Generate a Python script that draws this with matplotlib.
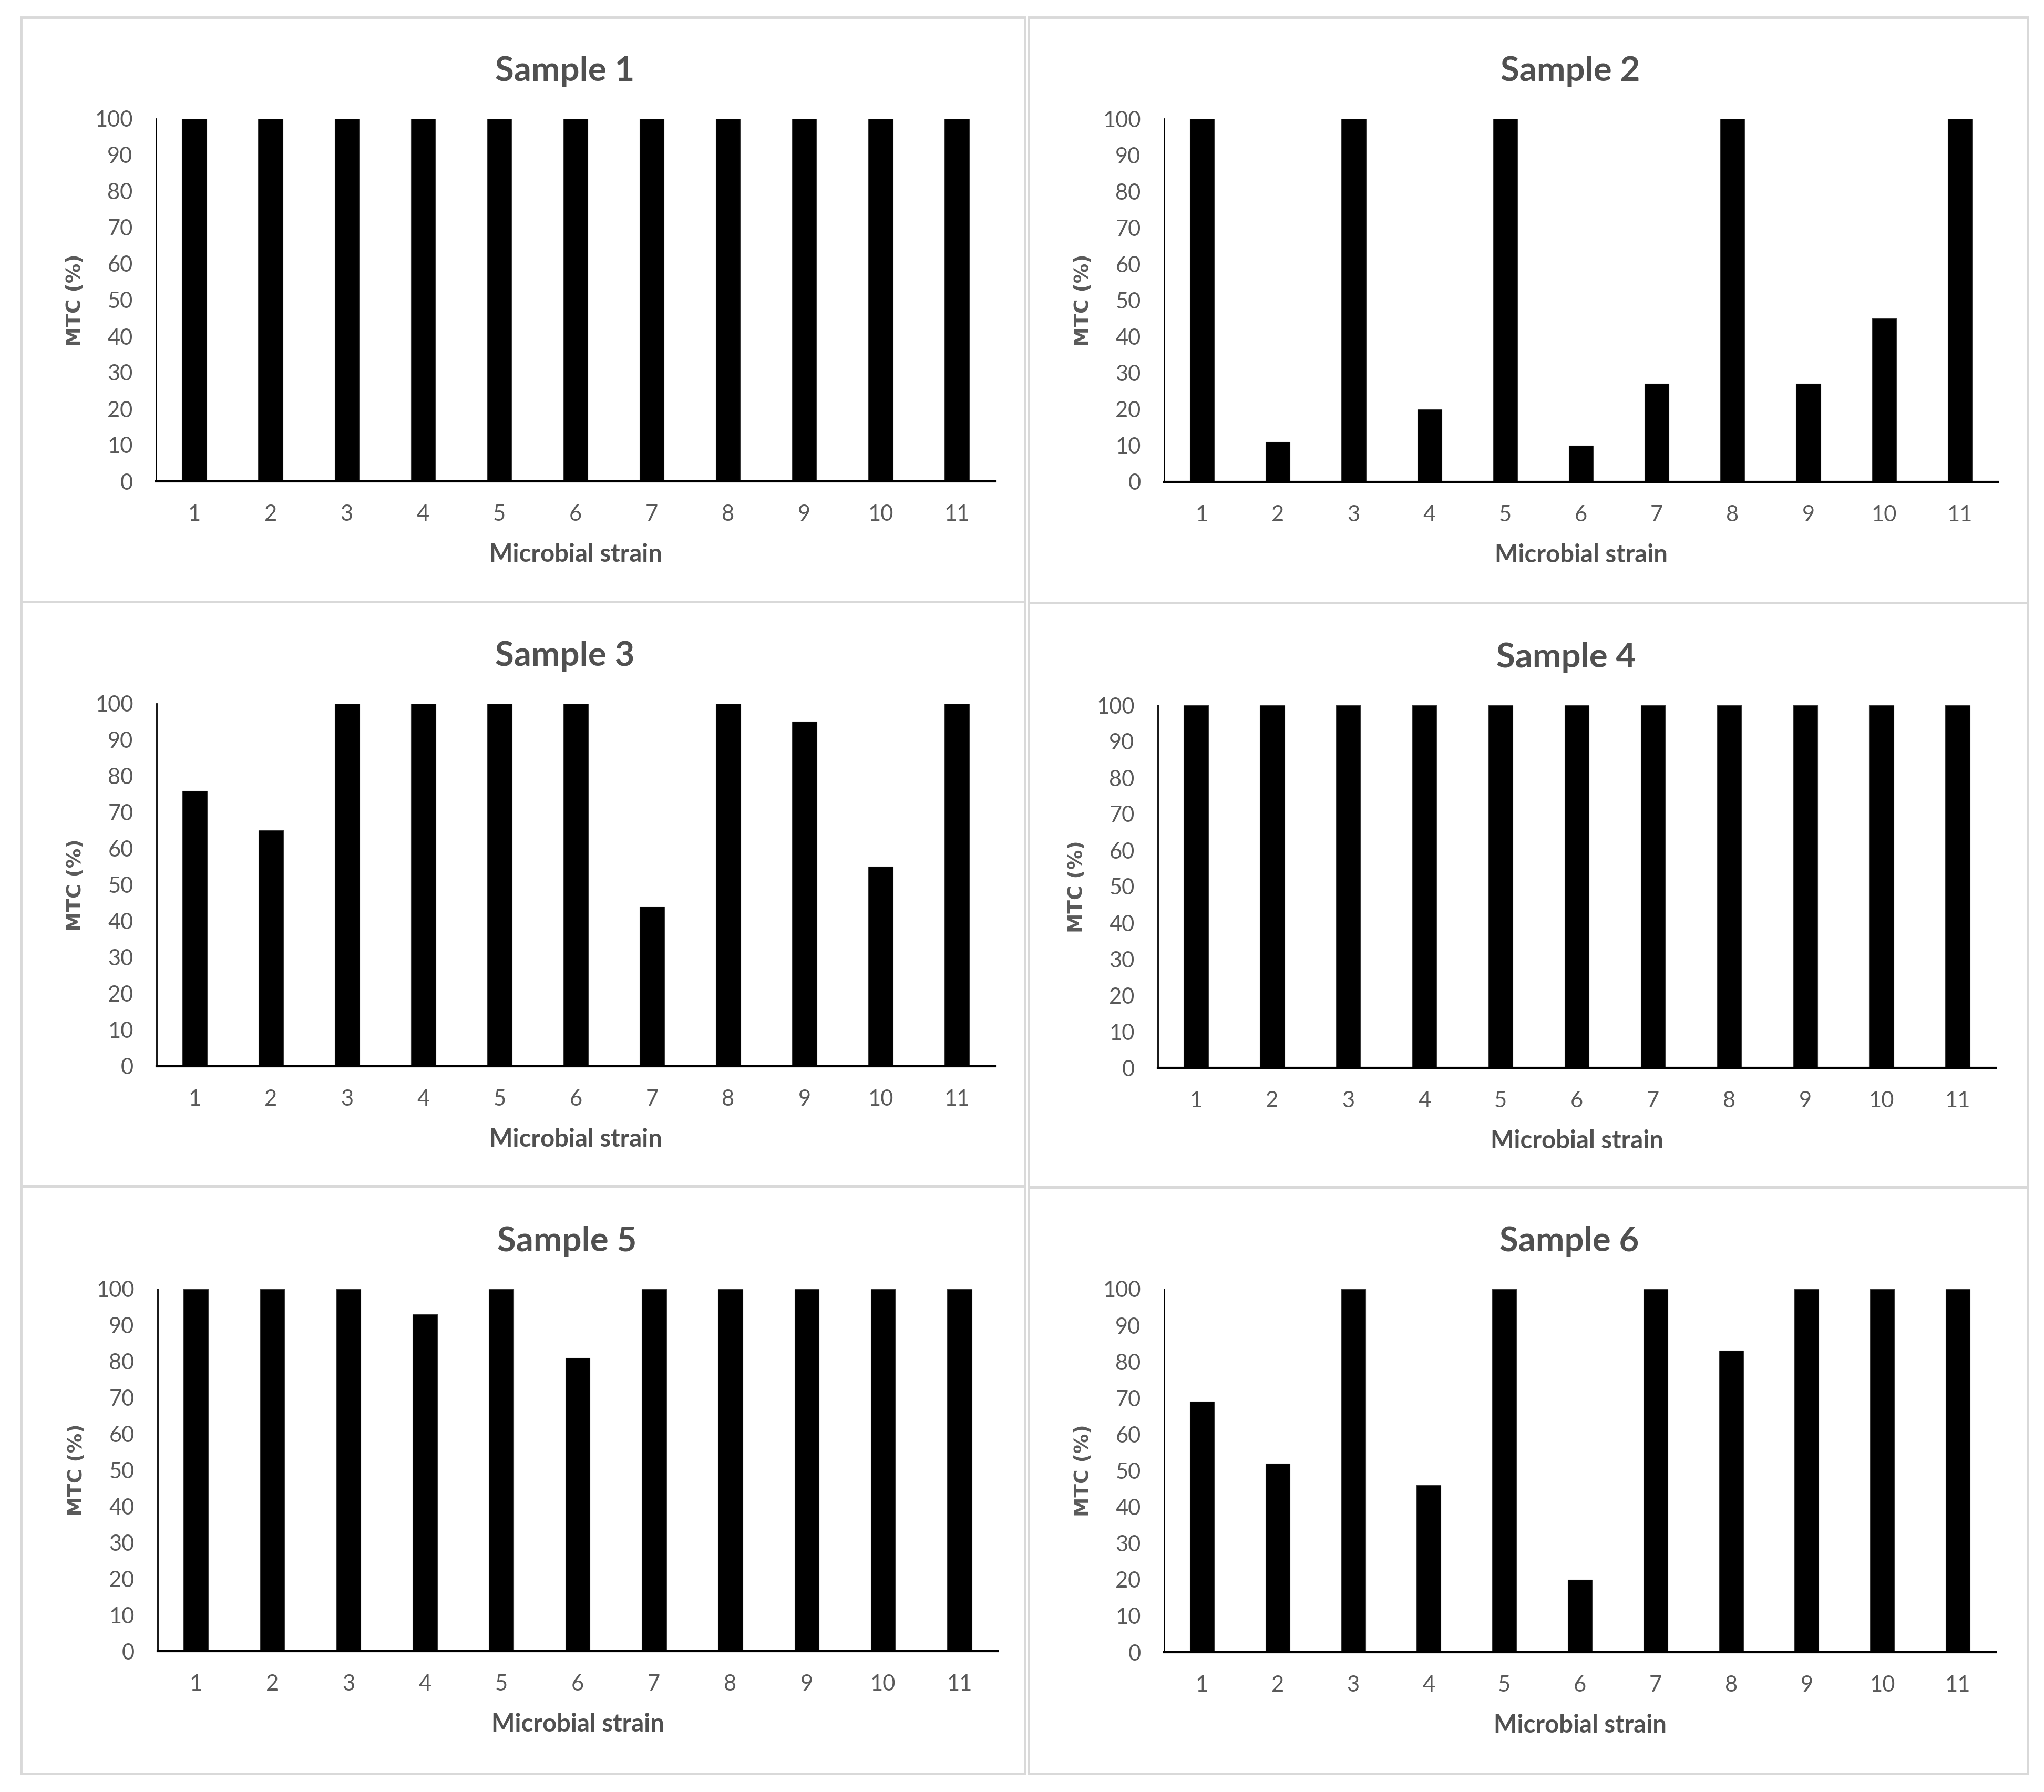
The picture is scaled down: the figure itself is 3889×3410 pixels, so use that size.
import numpy as np
import matplotlib
matplotlib.use("Agg")
import matplotlib.pyplot as plt
from matplotlib.patches import Rectangle

# data
strains = ["1", "2", "3", "4", "5", "6", "7", "8", "9", "10", "11"]
titles = ["Sample 1", "Sample 2", "Sample 3", "Sample 4", "Sample 5", "Sample 6"]
sample1 = [100, 100, 100, 100, 100, 100, 100, 100, 100, 100, 100]
sample2 = [100, 11, 100, 20, 100, 10, 27, 100, 27, 45, 100]
sample3 = [76, 65, 100, 100, 100, 100, 44, 100, 95, 55, 100]
sample4 = [100, 100, 100, 100, 100, 100, 100, 100, 100, 100, 100]
sample5 = [100, 100, 100, 93, 100, 81, 100, 100, 100, 100, 100]
sample6 = [69, 52, 100, 46, 100, 20, 100, 83, 100, 100, 100]
yticks = [0, 10, 20, 30, 40, 50, 60, 70, 80, 90, 100]

W, H = 3889, 3410
fig = plt.figure(figsize=(W / 100, H / 100), dpi=100)
fig.patch.set_facecolor("white")

gray = "#595959"

# panel frames (pixels: x0, y0, x1, y1)
frames = [(40, 33, 1950, 1145), (1957, 33, 3858, 1147),
          (40, 1145, 1950, 2257), (1957, 1147, 3858, 2259),
          (40, 2257, 1950, 3375), (1957, 2259, 3858, 3375)]
# plot areas (pixels: left, top, right, bottom)
areas = [(297, 226, 1893, 916), (2215, 226, 3801, 917),
         (298, 1339, 1893, 2029), (2203, 1342, 3797, 2032),
         (300, 2453, 1898, 3142), (2215, 2453, 3797, 3144)]

for x0, y0, x1, y1 in frames:
    fig.add_artist(Rectangle((x0 / W, 1 - y1 / H), (x1 - x0) / W, (y1 - y0) / H,
                             transform=fig.transFigure, fill=False,
                             edgecolor="#D9D9D9", linewidth=3.5))

samples = [sample1, sample2, sample3, sample4, sample5, sample6]
x = np.arange(len(strains))

for i, vals in enumerate(samples):
    l, t, r, b = areas[i]
    ax = fig.add_axes([l / W, 1 - b / H, (r - l) / W, (b - t) / H])
    ax.bar(x, vals, width=0.32, color="black", edgecolor="#3a3a3a", linewidth=0.8)
    ax.set_xlim(-0.5, len(strains) - 0.5)
    ax.set_ylim(0, 100)
    ax.set_yticks(yticks)
    ax.set_xticks(x)
    ax.set_xticklabels(strains)
    for s in ["top", "right"]:
        ax.spines[s].set_visible(False)
    ax.spines["left"].set_linewidth(2)
    ax.spines["bottom"].set_linewidth(3)
    ax.tick_params(length=0, labelsize=30, labelcolor=gray, pad=32)
    for lab in ax.get_xticklabels() + ax.get_yticklabels():
        lab.set_family("Lato")
    ax.set_title(titles[i], fontsize=47, fontweight="bold", color="#505050",
                 family="Lato", pad=52, x=0.487)
    ax.set_xlabel("Microbial strain", fontsize=34, fontweight="bold", color="#505050",
                  family="Lato", labelpad=25)
    ax.set_ylabel("MTC (%)", fontsize=27, fontweight="bold", color=gray,
                  family="DejaVu Sans", labelpad=14)

plt.savefig("out.png", dpi=100, facecolor="white")
